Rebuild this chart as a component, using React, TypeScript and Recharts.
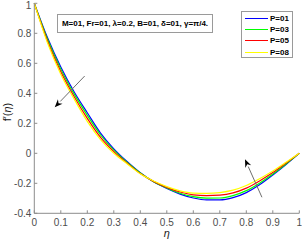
import React from "react";
import { LineChart, Line, XAxis, YAxis, Legend, ReferenceLine } from "recharts";

const ETA = [0, 0.05, 0.1, 0.15, 0.2, 0.25, 0.3, 0.35, 0.4, 0.45, 0.5, 0.55, 0.6, 0.65, 0.7, 0.75, 0.8, 0.85, 0.9, 0.95, 1];

const P01 = [1, 0.77, 0.575, 0.41, 0.27, 0.135, 0.03, -0.055, -0.13, -0.19, -0.235, -0.272, -0.298, -0.311, -0.311, -0.296, -0.262, -0.21, -0.145, -0.075, 0];
const P03 = [1, 0.76, 0.561, 0.396, 0.253, 0.122, 0.021, -0.06, -0.132, -0.189, -0.231, -0.266, -0.289, -0.299, -0.298, -0.282, -0.249, -0.199, -0.138, -0.071, 0];
const P05 = [1, 0.747, 0.544, 0.379, 0.233, 0.106, 0.011, -0.065, -0.135, -0.187, -0.227, -0.258, -0.277, -0.282, -0.279, -0.264, -0.232, -0.184, -0.128, -0.065, 0];
const P08 = [1, 0.735, 0.527, 0.363, 0.213, 0.091, 0.0, -0.07, -0.137, -0.185, -0.222, -0.25, -0.265, -0.267, -0.262, -0.246, -0.215, -0.17, -0.118, -0.06, 0];

const X_TICKS = [0, 0.1, 0.2, 0.3, 0.4, 0.5, 0.6, 0.7, 0.8, 0.9, 1];
const Y_TICKS = [-0.4, -0.2, 0, 0.2, 0.4, 0.6, 0.8, 1];

const SERIES = [
  { key: "p01", name: "P=01", color: "#0000ff", values: P01 },
  { key: "p03", name: "P=03", color: "#00ff00", values: P03 },
  { key: "p05", name: "P=05", color: "#ff0000", values: P05 },
  { key: "p08", name: "P=08", color: "#ffff00", values: P08 },
];

// arrows drawn across the curves: [tail eta, tail f', head eta, head f']
const ARROWS = [
  [0.19, 0.515, 0.077, 0.307],
  [0.859, -0.293, 0.795, -0.04],
];

const PARAMS = "M=01, Fr=01, \u03bb=0.2, B=01, \u03b4=01, \u03b3=\u03c0/4.";

const FONT = '"Liberation Sans", Arial, sans-serif';
const AXIS = "#8c8c8c";

const data = ETA.map((eta, i) => {
  const row: any = { eta };
  SERIES.forEach((s) => (row[s.key] = s.values[i]));
  return row;
});

const arrowShape = (props: any) => {
  const { x1, y1, x2, y2 } = props;
  if (x1 == null) return null;
  const dx = x2 - x1;
  const dy = y2 - y1;
  const len = Math.sqrt(dx * dx + dy * dy);
  const ux = dx / len;
  const uy = dy / len;
  const hl = 8;
  const hw = 3.2;
  const bx = x2 - ux * hl;
  const by = y2 - uy * hl;
  const pts = `${x2},${y2} ${bx - uy * hw},${by + ux * hw} ${bx + ux * 2.5},${by + uy * 2.5} ${bx + uy * hw},${by - ux * hw}`;
  return (
    <g>
      <line x1={x1} y1={y1} x2={bx} y2={by} stroke="#6e6e6e" strokeWidth={1} />
      <polygon points={pts} fill="#000" />
    </g>
  );
};

const renderLegend = (props: any) => {
  const { payload } = props;
  return (
    <div
      style={{
        width: 52,
        height: 47,
        boxSizing: "border-box",
        border: "1px solid #9a9a9a",
        background: "#fff",
        paddingTop: 1,
        paddingLeft: 3,
      }}
    >
      {payload.map((entry: any, index: number) => (
        <div key={`item-${index}`} style={{ display: "flex", alignItems: "center", height: 11.3 }}>
          <div style={{ width: 23, height: 1, background: entry.color, marginRight: 2 }} />
          <span style={{ font: `bold 8px ${FONT}`, color: "#000" }}>{entry.value}</span>
        </div>
      ))}
    </div>
  );
};

const fmt = (v: number) => String(v);

export default function App() {
  return (
    <div style={{ position: "absolute", left: 0, top: 0, width: 302, height: 242, background: "#fff", fontFamily: FONT }}>
      <LineChart width={302} height={242} data={data} margin={{ top: 3.3, right: 2.7, bottom: 0, left: 0 }}>
        <XAxis
          dataKey="eta"
          type="number"
          domain={[0, 1]}
          ticks={X_TICKS}
          tickFormatter={fmt}
          height={28.7}
          tickSize={-3}
          tickMargin={9}
          stroke={AXIS}
          tick={{ fontSize: 10, fill: "#4d4d4d", fontFamily: FONT }}
          label={{ value: "\u03b7", position: "insideBottom", offset: 5, fontSize: 11, fontStyle: "italic", fill: "#222" }}
        />
        <XAxis
          xAxisId="top"
          orientation="top"
          type="number"
          domain={[0, 1]}
          ticks={X_TICKS}
          height={0}
          tickSize={-3}
          tick={false}
          stroke={AXIS}
          allowDataOverflow
        />
        <YAxis
          type="number"
          domain={[-0.4, 1]}
          ticks={Y_TICKS}
          tickFormatter={fmt}
          width={34.3}
          tickSize={-3}
          tickMargin={6}
          stroke={AXIS}
          tick={{ fontSize: 10, fill: "#4d4d4d", fontFamily: FONT }}
          label={() => (
            <text x={11} y={112} transform="rotate(-90 11 112)" textAnchor="middle" fontSize={11} fill="#222" fontFamily={FONT}>
              {"f\u2032("}<tspan fontStyle="italic">{"\u03b7"}</tspan>)
            </text>
          )}
        />
        <YAxis
          yAxisId="right"
          orientation="right"
          type="number"
          domain={[-0.4, 1]}
          ticks={Y_TICKS}
          width={0}
          tickSize={-3}
          tick={false}
          stroke={AXIS}
          allowDataOverflow
        />
        {SERIES.map((s) => (
          <Line
            key={s.key}
            dataKey={s.key}
            name={s.name}
            type="monotone"
            stroke={s.color}
            strokeWidth={1.2}
            dot={false}
            isAnimationActive={false}
          />
        ))}
        {ARROWS.map((a, i) => (
          <ReferenceLine
            key={`arrow-${i}`}
            segment={[
              { x: a[0], y: a[1] },
              { x: a[2], y: a[3] },
            ]}
            shape={arrowShape}
          />
        ))}
        <Legend
          layout="horizontal"
          verticalAlign="middle"
          align="center"
          content={renderLegend}
          wrapperStyle={{ position: "absolute", left: 241, top: 10.7, width: 52, height: 47 }}
        />
      </LineChart>
      <div
        style={{
          position: "absolute",
          left: 57,
          top: 14,
          width: 156,
          height: 19,
          boxSizing: "border-box",
          border: "1px solid #9a9a9a",
          background: "#fff",
          font: `bold 8px ${FONT}`,
          color: "#000",
          display: "flex",
          alignItems: "center",
          justifyContent: "center",
          whiteSpace: "nowrap",
        }}
      >
        {PARAMS}
      </div>
    </div>
  );
}
